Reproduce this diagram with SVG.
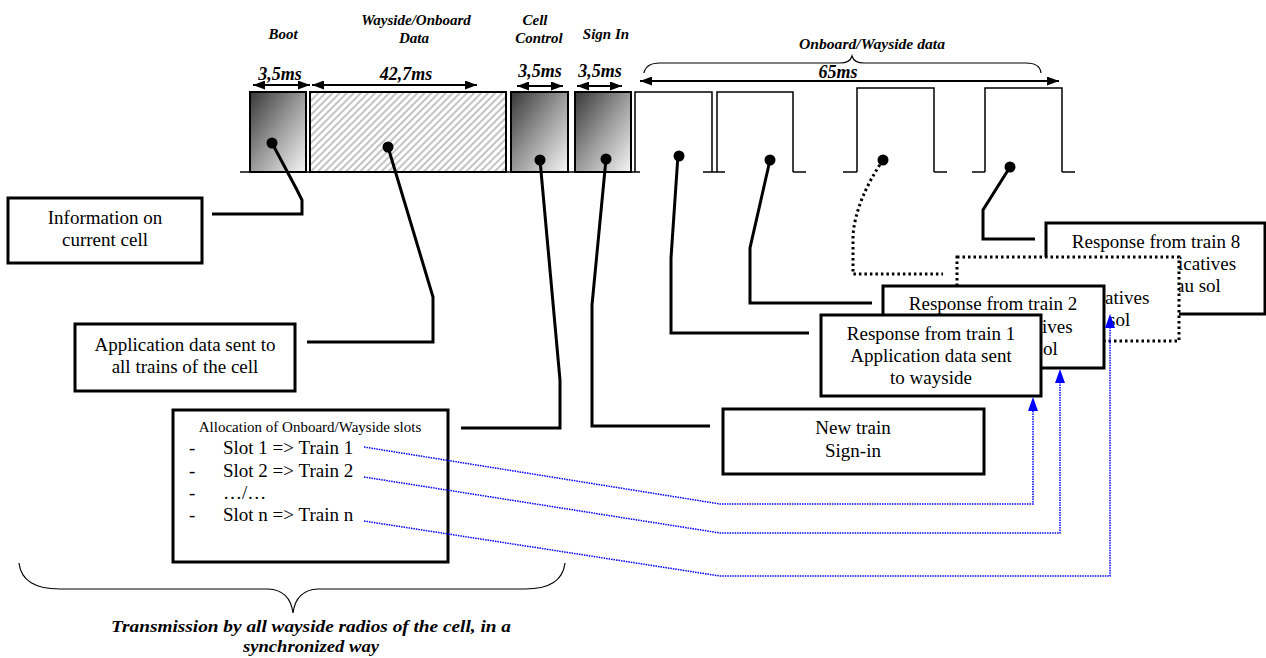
<svg xmlns="http://www.w3.org/2000/svg" width="1266" height="658" viewBox="0 0 1266 658">
<style>
.lbl{font-family:"Liberation Serif",serif;font-weight:bold;font-style:italic;font-size:15px;fill:#000}
.dim{font-family:"Liberation Serif",serif;font-weight:bold;font-style:italic;font-size:18px;fill:#000}
.btm{font-family:"Liberation Serif",serif;font-weight:bold;font-style:italic;font-size:17px;fill:#000}
.txt{font-family:"Liberation Serif",serif;font-size:19px;fill:#000}
.small{font-family:"Liberation Serif",serif;font-size:15px;fill:#000}
.box{fill:#fff;stroke:#000;stroke-width:3}
.dbox{fill:#fff;stroke:#000;stroke-width:3;stroke-dasharray:2.5 3}
.blk{fill:url(#grad);stroke:#000;stroke-width:2}
.pulse{fill:none;stroke:#000;stroke-width:1.5}
.conn{fill:none;stroke:#000;stroke-width:3}
.dotc{fill:none;stroke:#000;stroke-width:3;stroke-dasharray:2.5 3}
.blue{fill:none;stroke:#0000ff;stroke-width:1.5;stroke-dasharray:1.5 1}
.dimline{fill:none;stroke:#000;stroke-width:2.2;marker-start:url(#ah);marker-end:url(#ah)}
.brace{fill:none;stroke:#000;stroke-width:1.2}
.dot{fill:#000}
.bah{fill:#0000ff}
</style>
<defs>
<linearGradient id="grad" x1="0" y1="0" x2="1" y2="1">
<stop offset="0" stop-color="#383838"/>
<stop offset="0.5" stop-color="#9a9a9a"/>
<stop offset="1" stop-color="#f6f6f6"/>
</linearGradient>
<pattern id="hatch" patternUnits="userSpaceOnUse" width="5" height="5" patternTransform="rotate(45)">
<rect width="5" height="5" fill="#fff"/>
<line x1="1" y1="0" x2="1" y2="5" stroke="#aaaaaa" stroke-width="1.4"/>
</pattern>
<marker id="ah" viewBox="0 0 12 9" refX="12" refY="4.5" markerWidth="12" markerHeight="9" markerUnits="userSpaceOnUse" orient="auto-start-reverse">
<path d="M0,0 L12,4.5 L0,9 Z" fill="#000"/>
</marker>
</defs>

<g id="timeline">
<line x1="240" y1="172" x2="640" y2="172" stroke="#000" stroke-width="1.5"/>
<line x1="703" y1="172" x2="725" y2="172" stroke="#000" stroke-width="1.5"/>
<line x1="793" y1="172" x2="806" y2="172" stroke="#000" stroke-width="1.5"/>
<line x1="843" y1="172" x2="857" y2="172" stroke="#000" stroke-width="1.5"/>
<line x1="934" y1="172" x2="947" y2="172" stroke="#000" stroke-width="1.5"/>
<line x1="972" y1="172" x2="985" y2="172" stroke="#000" stroke-width="1.5"/>
<line x1="1062" y1="172" x2="1075" y2="172" stroke="#000" stroke-width="1.5"/>
<rect id="boot-block" class="blk" x="250" y="92" width="56" height="80"/>
<rect id="data-block" x="310" y="92" width="196" height="80" fill="url(#hatch)" stroke="#000" stroke-width="2"/>
<rect id="cell-block" class="blk" x="511" y="92" width="57" height="80"/>
<rect id="sign-block" class="blk" x="575" y="92" width="56" height="80"/>
<path class="pulse" d="M635,172 V92 H712 V172"/>
<path class="pulse" d="M717,172 V92 H793 V172"/>
<path class="pulse" d="M857,172 V88 H934 V172"/>
<path class="pulse" d="M985,172 V88 H1062 V172"/>
</g>

<g id="top-labels">
<text class="lbl" x="283" y="39" text-anchor="middle">Boot</text>
<text class="lbl" x="416" y="25" text-anchor="middle">Wayside/Onboard</text>
<text class="lbl" x="414" y="43" text-anchor="middle">Data</text>
<text class="lbl" x="535" y="25" text-anchor="middle">Cell</text>
<text class="lbl" x="539" y="43" text-anchor="middle">Control</text>
<text class="lbl" x="606" y="39" text-anchor="middle">Sign In</text>
<text class="lbl" x="872" y="49" text-anchor="middle" textLength="146" lengthAdjust="spacingAndGlyphs">Onboard/Wayside data</text>
<text class="dim" x="280" y="80" text-anchor="middle">3,5ms</text>
<text class="dim" x="406" y="80" text-anchor="middle">42,7ms</text>
<text class="dim" x="540" y="77" text-anchor="middle">3,5ms</text>
<text class="dim" x="600" y="77" text-anchor="middle">3,5ms</text>
<text class="dim" x="838" y="78" text-anchor="middle">65ms</text>
<line class="dimline" x1="253" y1="85" x2="310" y2="85"/>
<line class="dimline" x1="312" y1="85" x2="477" y2="85"/>
<line class="dimline" x1="517" y1="86" x2="563" y2="86"/>
<line class="dimline" x1="577" y1="86" x2="622" y2="86"/>
<line class="dimline" x1="640" y1="81" x2="1059" y2="81"/>
<path class="brace" d="M644,73 Q646,63 660,63 L840,63 Q850,63 852,56 Q854,63 864,63 L1026,63 Q1040,63 1041,73"/>
</g>

<g id="node-info">
<rect class="box" x="8" y="198" width="194" height="65"/>
<text class="txt" x="105" y="224" text-anchor="middle">Information on</text>
<text class="txt" x="105" y="246" text-anchor="middle">current cell</text>
</g>
<g id="node-appdata">
<rect class="box" x="75" y="324" width="220" height="67"/>
<text class="txt" x="185" y="351" text-anchor="middle">Application data sent to</text>
<text class="txt" x="185" y="373" text-anchor="middle">all trains of the cell</text>
</g>
<g id="node-allocation">
<rect class="box" x="173" y="410" width="275" height="152"/>
<text class="small" x="310" y="432" text-anchor="middle">Allocation of Onboard/Wayside slots</text>
<text class="txt" x="189" y="454">-</text>
<text class="txt" x="223" y="454">Slot 1 =&gt; Train 1</text>
<text class="txt" x="189" y="477">-</text>
<text class="txt" x="223" y="477">Slot 2 =&gt; Train 2</text>
<text class="txt" x="189" y="499">-</text>
<text class="txt" x="223" y="499">…/…</text>
<text class="txt" x="189" y="521">-</text>
<text class="txt" x="223" y="521">Slot n =&gt; Train n</text>
</g>
<g id="node-newtrain">
<rect class="box" x="723" y="409" width="261" height="65"/>
<text class="txt" x="853" y="434" text-anchor="middle">New train</text>
<text class="txt" x="853" y="457" text-anchor="middle">Sign-in</text>
</g>
<g id="node-train8">
<rect class="box" x="1046" y="223" width="219" height="91"/>
<text class="txt" x="1156" y="248" text-anchor="middle">Response from train 8</text>
<text class="txt" x="1178" y="270">icatives</text>
<text class="txt" x="1176" y="292">au sol</text>
</g>
<g id="node-trainn">
<rect class="dbox" x="957" y="257" width="222" height="84"/>
<text class="txt" x="1105" y="304">atives</text>
<text class="txt" x="1108" y="326">sol</text>
</g>
<g id="node-train2">
<rect class="box" x="883" y="286" width="221" height="82"/>
<text class="txt" x="993" y="310" text-anchor="middle">Response from train 2</text>
<text class="txt" x="1042" y="333">ives</text>
<text class="txt" x="1043" y="355">ol</text>
</g>
<g id="node-train1">
<rect class="box" x="821" y="315" width="220" height="81"/>
<text class="txt" x="931" y="340" text-anchor="middle">Response from train 1</text>
<text class="txt" x="931" y="362" text-anchor="middle">Application data sent</text>
<text class="txt" x="931" y="384" text-anchor="middle">to wayside</text>
</g>

<g id="connectors">
<path class="conn" d="M272,143 L297,190 L302,200 L302,214 L212,214"/>
<path class="conn" d="M388,147 L433,297 L433,342 L307,342"/>
<path class="conn" d="M540,160 L560,380 L560,428 L461,428"/>
<path class="conn" d="M606,159 L592,305 L592,426 L710,426"/>
<path class="conn" d="M678,155 L671,258 L671,333 L809,333"/>
<path class="conn" d="M770,160 L750,248 L750,303 L872,303"/>
<path class="dotc" d="M883,160 Q856,200 853,235 L853,274 L943,274"/>
<path class="conn" d="M1010,167 L983,210 L983,239 L1035,239"/>
<circle class="dot" cx="272" cy="143" r="5.5"/>
<circle class="dot" cx="388" cy="147" r="5.5"/>
<circle class="dot" cx="540" cy="160" r="5.5"/>
<circle class="dot" cx="606" cy="159" r="5.5"/>
<circle class="dot" cx="679" cy="156" r="5.5"/>
<circle class="dot" cx="770" cy="160" r="5.5"/>
<circle class="dot" cx="883" cy="160" r="5.5"/>
<circle class="dot" cx="1010" cy="167" r="5.5"/>
<path class="blue" d="M364,447 L720,504 L1033,504 L1033,410"/>
<path class="blue" d="M364,477 L720,533 L1060,533 L1060,382"/>
<path class="blue" d="M364,521 L720,576 L1110,576 L1110,326"/>
<path class="bah" d="M1033,397 L1038,411 L1028,411 Z"/>
<path class="bah" d="M1060,369 L1065,383 L1055,383 Z"/>
<path class="bah" d="M1110,314 L1115,328 L1105,328 Z"/>
</g>

<g id="bottom">
<path class="brace" d="M19,563 Q22,589 60,589 L268,589 Q290,590 293,613 Q296,590 318,589 L525,589 Q562,589 565,563"/>
<text class="btm" x="311" y="632" text-anchor="middle" textLength="400" lengthAdjust="spacingAndGlyphs">Transmission by all wayside radios of the cell, in a</text>
<text class="btm" x="311" y="652" text-anchor="middle" textLength="136" lengthAdjust="spacingAndGlyphs">synchronized way</text>
</g>
</svg>
